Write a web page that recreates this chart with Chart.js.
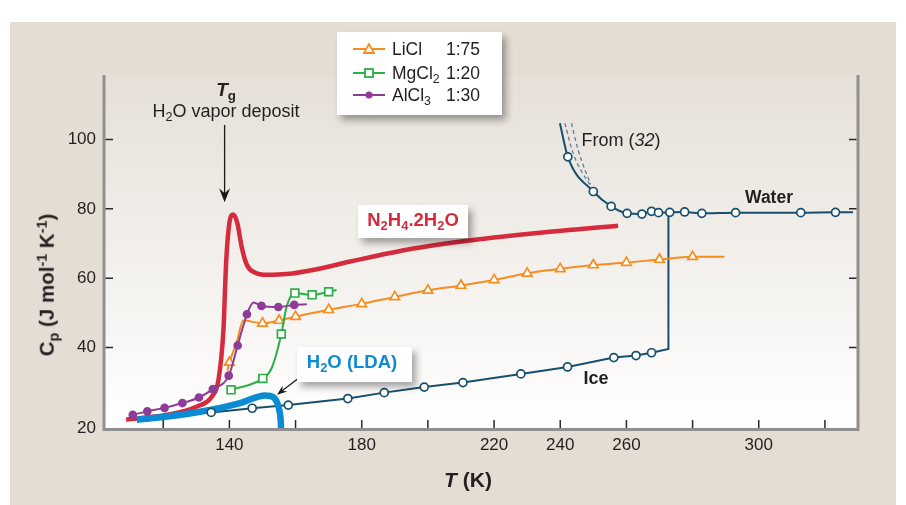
<!DOCTYPE html>
<html lang="en">
<head>
<meta charset="utf-8">
<title>Cp x T</title>
<script src="https://cdn.jsdelivr.net/npm/chart.js@4.4.1/dist/chart.umd.min.js"></script>
<style>
	html, body { margin: 0; padding: 0; background: #fff; }
	body { position: relative; width: 906px; height: 505px; overflow: hidden; font-family: "Liberation Sans", Arial, Helvetica, sans-serif; color: #231f20; }
	#painel { position: absolute; left: 10px; top: 22px; width: 886px; height: 483px; background: #e4ddd3; }
	#grafico { position: absolute; left: 0; top: 0; }
	.texto { position: absolute; white-space: nowrap; line-height: 1; transform: translate(-50%, -50%); }
	.caixa { position: absolute; background: #fff; box-shadow: 4px 5px 7px rgba(0, 0, 0, 0.35); }
	sub, sup { font-size: 0.7em; line-height: 0; position: relative; vertical-align: baseline; }
	sub { top: 0.32em; }
	sup { top: -0.5em; }
	.linha_legenda { position: absolute; left: 0; width: 100%; height: 20px; line-height: 20px; font-size: 17.5px; }
	.linha_legenda svg { position: absolute; left: 16px; top: 2px; }
	.linha_legenda .nome { position: absolute; left: 55px; top: 0; }
	.linha_legenda .razao { position: absolute; right: 22px; top: 0; }
</style>
</head>
<body>
<div id="painel"></div>
<canvas id="grafico" width="906" height="505"></canvas>

<!-- legenda -->
<div class="caixa" style="left: 337px; top: 32px; width: 165px; height: 83px;">
	<div class="linha_legenda" style="top: 7px;">
		<svg width="32" height="16"><line x1="0" y1="8" x2="32" y2="8" stroke="#f68d1e" stroke-width="2" /><polygon points="16,3 21,12 11,12" fill="#fff" stroke="#f68d1e" stroke-width="1.8" /></svg>
		<span class="nome">LiCl</span><span class="razao">1:75</span>
	</div>
	<div class="linha_legenda" style="top: 31px;">
		<svg width="32" height="16"><line x1="0" y1="8" x2="32" y2="8" stroke="#2bb04a" stroke-width="2" /><rect x="12" y="4" width="8" height="8" fill="#fff" stroke="#2bb04a" stroke-width="1.8" /></svg>
		<span class="nome">MgCl<sub>2</sub></span><span class="razao">1:20</span>
	</div>
	<div class="linha_legenda" style="top: 53px;">
		<svg width="32" height="16"><line x1="0" y1="8" x2="32" y2="8" stroke="#8e3c97" stroke-width="2" /><circle cx="16" cy="8" r="3.6" fill="#8e3c97" /></svg>
		<span class="nome">AlCl<sub>3</sub></span><span class="razao">1:30</span>
	</div>
</div>

<!-- anotacoes -->
<div class="texto" style="left: 226px; top: 89px; font-size: 19px; font-weight: bold;"><i>T</i><sub>g</sub></div>
<div class="texto" style="left: 226px; top: 111px; font-size: 18px;">H<sub>2</sub>O vapor deposit</div>
<div class="texto" style="left: 621px; top: 140px; font-size: 18px;">From (<i>32</i>)</div>
<div class="texto" style="left: 769px; top: 198px; font-size: 17.5px; font-weight: bold;">Water</div>
<div class="texto" style="left: 596px; top: 378px; font-size: 18px; font-weight: bold;">Ice</div>

<div class="caixa" style="left: 358px; top: 205px; width: 110px; height: 33px;"></div>
<div class="texto" style="left: 413px; top: 220px; font-size: 18.5px; font-weight: bold; color: #d52b3c;">N<sub>2</sub>H<sub>4</sub>.2H<sub>2</sub>O</div>

<div class="caixa" style="left: 297px; top: 347px; width: 115px; height: 35px;"></div>
<div class="texto" style="left: 352px; top: 362px; font-size: 18.5px; font-weight: bold; color: #0b8bd3;">H<sub>2</sub>O (LDA)</div>

<!-- titulos dos eixos -->
<div class="texto" style="left: 47px; top: 285px; font-size: 20.5px; font-weight: bold; transform: translate(-50%, -50%) rotate(-90deg);">C<sub>p</sub> (J mol<sup>-1</sup> K<sup>-1</sup>)</div>
<div class="texto" style="left: 468px; top: 479px; font-size: 21px; font-weight: bold;"><i>T</i> (K)</div>

<script>
var fonte = "'Liberation Sans', Arial, Helvetica, sans-serif";

// eixos
var xTicks = [120, 140, 160, 180, 200, 220, 240, 260, 280, 300, 320];
var xLabels = [140, 180, 220, 240, 260, 300];
var yTicks = [40, 60, 80, 100];

// gelo (pontos) e a subida na fusao
var geloT = [134.5, 146.9, 157.8, 175.8, 186.8, 198.9, 210.6, 228.1, 242.2, 256.2, 262.9, 267.6];
var geloCp = [21.3, 22.5, 23.4, 25.3, 27.0, 28.6, 29.9, 32.4, 34.4, 37.1, 37.7, 38.5];
var fusaoT = [272.7, 272.7];
var fusaoCp = [39.6, 79.0];

// agua
var aguaT = [242.3, 250.0, 255.4, 260.2, 264.7, 267.6, 269.7, 273.1, 277.6, 282.8, 293.0, 312.7, 323.2];
var aguaCp = [95.0, 85.0, 80.7, 78.7, 78.5, 79.3, 78.9, 79.0, 79.1, 78.7, 78.9, 78.9, 79.0];
var aguaExtraT = [239.9, 328.5];
var aguaExtraCp = [104.7, 79.0];

// From (32), tracejadas
var ref32aT = [241.4, 243.9, 246.5, 249.0];
var ref32aCp = [104.7, 96.0, 90.7, 86.9];
var ref32bT = [243.4, 245.4, 247.5, 249.2];
var ref32bCp = [104.7, 97.0, 91.2, 87.2];

// LiCl 1:75
var liclT = [140, 150, 155, 160, 170, 180, 190, 200, 210, 220, 230, 240, 250, 260, 270, 280];
var liclCp = [35.7, 47.0, 47.8, 48.9, 50.9, 52.6, 54.6, 56.5, 57.9, 59.5, 61.4, 62.7, 63.8, 64.5, 65.4, 66.2];
var liclExtraT = [139.4, 142.2, 144.2, 289.6];
var liclExtraCp = [33.4, 41.5, 47.8, 66.2];

// MgCl2 1:20
var mgT = [140.5, 150.1, 155.7, 159.8, 165.0, 170.0];
var mgCp = [27.8, 31.1, 43.9, 55.7, 55.2, 56.1];
var mgExtraT = [152.8, 157.3, 172.4];
var mgExtraCp = [34.1, 51.8, 56.6];

// AlCl3 1:30
var alT = [110.8, 115.2, 120.4, 125.8, 130.8, 135.0, 139.8, 142.5, 145.3, 149.7, 154.8, 159.6];
var alCp = [20.6, 21.6, 22.6, 24.0, 25.6, 28.0, 31.9, 40.6, 49.6, 52.0, 51.7, 52.3];
var alExtraT = [147.3, 163.4];
var alExtraCp = [53.0, 52.5];

// N2H4.2H2O
var n2hT = [108.8, 121.1, 130.2, 134.7, 136.7, 138.2, 139.0, 140.0, 141.2, 142.4, 143.7, 145.3, 147.8, 151.3, 157.3, 166.4, 176.5, 193.6, 213.7, 233.9, 257.5];
var n2hCp = [19.2, 20.6, 23.0, 25.9, 30.7, 45.1, 64.3, 75.9, 78.4, 75.9, 69.1, 63.8, 61.6, 61.0, 61.2, 62.6, 64.8, 68.2, 71.0, 73.1, 75.1];

// H2O (LDA)
var ldaT = [112.0, 121.1, 134.2, 143.2, 150.8, 153.3, 154.8, 155.5, 155.6, 155.7];
var ldaCp = [19.2, 20.1, 22.0, 24.0, 26.2, 25.7, 23.0, 19.1, 17.2, 14.0];

function pontos(t, cp) {
	var lista = [];
	for (var i = 0; i < t.length; i++) {
		lista.push({ x: t[i], y: cp[i] });
	}
	return lista;
}

// junta pontos medidos com pontos so de forma da curva, em ordem de T
function juntar(t, cp, tExtra, cpExtra) {
	return pontos(t, cp).concat(pontos(tExtra, cpExtra)).sort(function (a, b) {
		return a.x - b.x;
	});
}

function linha(dados, cor, largura, ordem) {
	return {
		data: dados,
		showLine: true,
		borderColor: cor,
		borderWidth: largura,
		pointRadius: 0,
		cubicInterpolationMode: "monotone",
		order: ordem,
	};
}

function marcadores(dados, estilo, cor, fundo, raio, ordem) {
	return {
		data: dados,
		showLine: false,
		pointStyle: estilo,
		pointRadius: raio,
		pointBorderWidth: 1.7,
		pointBorderColor: cor,
		pointBackgroundColor: fundo,
		order: ordem,
	};
}

function desenharSeta(ctx, x1, y1, x2, y2, comp, larg) {
	var ang = Math.atan2(y2 - y1, x2 - x1);
	ctx.beginPath();
	ctx.moveTo(x1, y1);
	ctx.lineTo(x2 - Math.cos(ang) * comp * 0.6, y2 - Math.sin(ang) * comp * 0.6);
	ctx.stroke();
	ctx.save();
	ctx.translate(x2, y2);
	ctx.rotate(ang);
	ctx.beginPath();
	ctx.moveTo(0, 0);
	ctx.lineTo(-comp, -larg);
	ctx.lineTo(-comp * 0.65, 0);
	ctx.lineTo(-comp, larg);
	ctx.closePath();
	ctx.fill();
	ctx.restore();
}

var moldura = {
	id: "moldura",
	beforeDraw: function (chart) {
		var ctx = chart.ctx;
		var a = chart.chartArea;
		var grad = ctx.createLinearGradient(0, a.top, 0, a.bottom);
		grad.addColorStop(0, "#e5dfd7");
		grad.addColorStop(1, "#ffffff");
		ctx.save();
		ctx.fillStyle = grad;
		ctx.fillRect(a.left, a.top, a.right - a.left, a.bottom - a.top);
		ctx.restore();
	},
	afterDraw: function (chart) {
		var ctx = chart.ctx;
		var a = chart.chartArea;
		var sx = chart.scales.x;
		var sy = chart.scales.y;
		ctx.save();

		// bordas cinzas (esquerda, direita, base)
		ctx.strokeStyle = "#8f8f8f";
		ctx.lineWidth = 3;
		ctx.beginPath();
		ctx.moveTo(a.left, a.top);
		ctx.lineTo(a.left, a.bottom + 1.5);
		ctx.lineTo(a.right, a.bottom + 1.5);
		ctx.lineTo(a.right, a.top);
		ctx.stroke();

		// marcas para dentro
		ctx.strokeStyle = "#2a2a2a";
		ctx.lineWidth = 1.5;
		ctx.beginPath();
		xTicks.forEach(function (v) {
			var px = sx.getPixelForValue(v);
			ctx.moveTo(px, a.bottom);
			ctx.lineTo(px, a.bottom - 8);
		});
		yTicks.forEach(function (v) {
			var py = sy.getPixelForValue(v);
			ctx.moveTo(a.left + 1.5, py);
			ctx.lineTo(a.left + 9, py);
			ctx.moveTo(a.right - 1.5, py);
			ctx.lineTo(a.right - 9, py);
		});
		ctx.stroke();

		// setas
		ctx.strokeStyle = "#1a1a1a";
		ctx.fillStyle = "#1a1a1a";
		ctx.lineWidth = 1.3;
		desenharSeta(ctx, sx.getPixelForValue(138.55), sy.getPixelForValue(104.2), sx.getPixelForValue(138.55), sy.getPixelForValue(81.9), 14, 5.5);
		desenharSeta(ctx, sx.getPixelForValue(160.8), sy.getPixelForValue(31.1), sx.getPixelForValue(154.4), sy.getPixelForValue(26.4), 10, 3.8);
		ctx.restore();
	},
};

var conjuntos = [
	marcadores(pontos(alT, alCp), "circle", "#8e3c97", "#8e3c97", 3.5, 1),
	linha(juntar(alT, alCp, alExtraT, alExtraCp), "#8e3c97", 2, 2),
	marcadores(pontos(mgT, mgCp), "rect", "#2bb04a", "#ffffff", 5.5, 3),
	linha(juntar(mgT, mgCp, mgExtraT, mgExtraCp), "#2bb04a", 2, 4),
	marcadores(pontos(liclT, liclCp), "triangle", "#f68d1e", "#ffffff", 5.5, 5),
	linha(juntar(liclT, liclCp, liclExtraT, liclExtraCp), "#f68d1e", 2, 6),
	marcadores(pontos(geloT, geloCp), "circle", "#174f6c", "#ffffff", 4, 6.5),
	linha(pontos(ldaT, ldaCp), "#0b8bd3", 6.5, 7),
	linha(pontos(n2hT, n2hCp), "#d52b3c", 4.5, 8),
	marcadores(pontos(aguaT, aguaCp), "circle", "#174f6c", "#ffffff", 4, 9),
	linha(juntar(aguaT, aguaCp, aguaExtraT, aguaExtraCp), "#174f6c", 2, 10),
];

var gelo = linha(juntar(geloT, geloCp, fusaoT, fusaoCp), "#174f6c", 2, 10);
gelo.cubicInterpolationMode = "default";
gelo.tension = 0;
conjuntos.push(gelo);

var tracoA = linha(pontos(ref32aT, ref32aCp), "#5f7d98", 1.3, 11);
tracoA.borderDash = [4, 3];
var tracoB = linha(pontos(ref32bT, ref32bCp), "#5f7d98", 1.3, 11);
tracoB.borderDash = [4, 3];
conjuntos.push(tracoA, tracoB);

// a curva LDA termina cortada no eixo de baixo
conjuntos[7].clip = 0;

var chart_cp = new Chart(document.getElementById("grafico"), {
	type: "scatter",
	data: { datasets: conjuntos },
	options: {
		responsive: false,
		animation: false,
		layout: {
			autoPadding: false,
			padding: { left: 0, top: 75, right: 48, bottom: 0 },
		},
		plugins: {
			legend: { display: false },
			tooltip: { enabled: false },
		},
		scales: {
			x: {
				type: "linear",
				min: 102.1,
				max: 330,
				afterFit: function (s) {
					s.height = 77;
				},
				afterBuildTicks: function (s) {
					s.ticks = xTicks.map(function (v) {
						return { value: v };
					});
				},
				grid: { display: false, drawTicks: false },
				border: { display: false },
				ticks: {
					padding: 7,
					autoSkip: false,
					maxRotation: 0,
					color: "#231f20",
					font: { family: fonte, size: 17 },
					callback: function (v) {
						return xLabels.indexOf(v) >= 0 ? String(v) : "";
					},
				},
			},
			y: {
				type: "linear",
				min: 16.8,
				max: 118.6,
				afterFit: function (s) {
					s.width = 104;
				},
				afterBuildTicks: function (s) {
					s.ticks = [s.min].concat(yTicks).map(function (v) {
						return { value: v };
					});
				},
				grid: { display: false, drawTicks: false },
				border: { display: false },
				ticks: {
					padding: 8,
					color: "#231f20",
					font: { family: fonte, size: 17 },
					callback: function (v) {
						// o rotulo 20 fica no canto do eixo, como na figura
						return v < 20 ? "20" : String(v);
					},
				},
			},
		},
	},
	plugins: [moldura],
});
</script>
</body>
</html>
